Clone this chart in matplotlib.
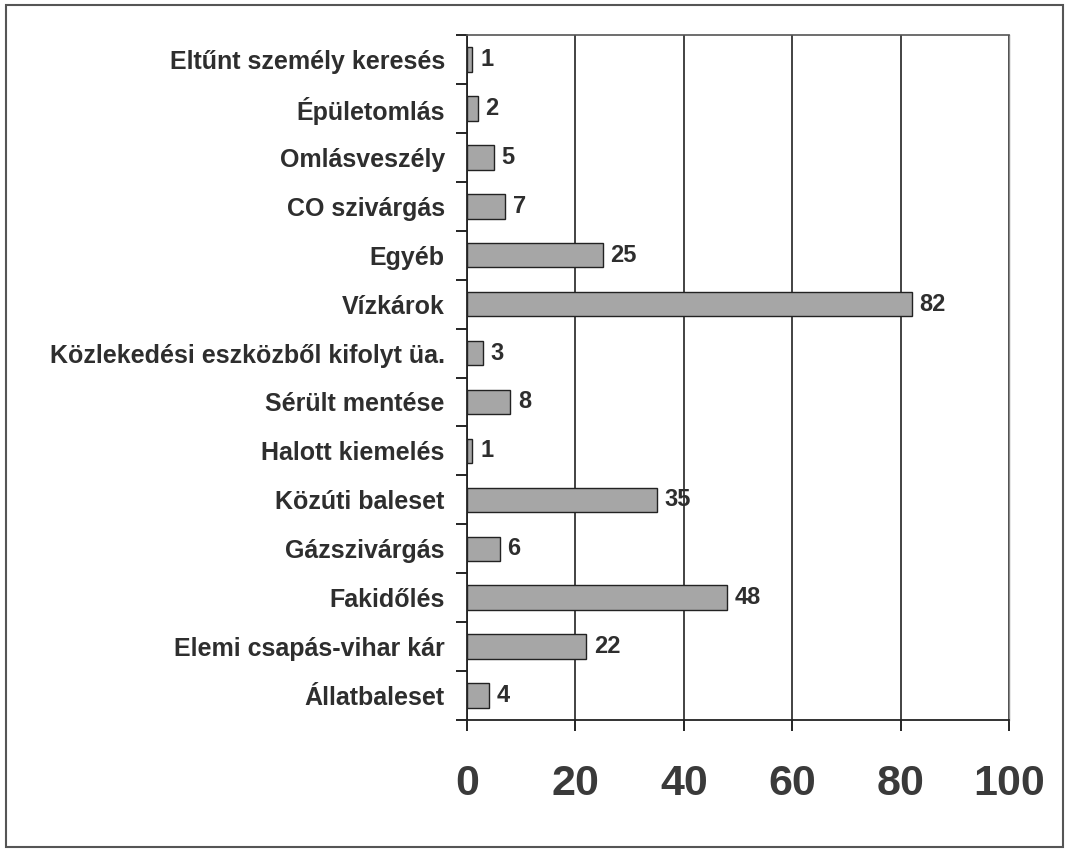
import numpy as np
import matplotlib.pyplot as plt
from matplotlib.patches import Rectangle

categories = [
    "Eltűnt személy keresés",
    "Épületomlás",
    "Omlásveszély",
    "CO szivárgás",
    "Egyéb",
    "Vízkárok",
    "Közlekedési eszközből kifolyt üa.",
    "Sérült mentése",
    "Halott kiemelés",
    "Közúti baleset",
    "Gázszivárgás",
    "Fakidőlés",
    "Elemi csapás-vihar kár",
    "Állatbaleset",
]
values = [1, 2, 5, 7, 25, 82, 3, 8, 1, 35, 6, 48, 22, 4]
xticks = [0, 20, 40, 60, 80, 100]

plt.rcParams["font.family"] = ["Liberation Sans", "DejaVu Sans"]
text_color = "#2e2e2e"

fig = plt.figure(figsize=(10.67, 8.5), dpi=100)
fig.patches.append(Rectangle((0.006, 0.003), 0.99, 0.991, transform=fig.transFigure,
                             fill=False, edgecolor="#555555", linewidth=1.5))
ax = fig.add_axes([0.4377, 0.1529, 0.5083, 0.8059])

n = len(categories)
pos = np.arange(n)
ax.barh(pos, values, height=0.5, color="#a6a6a6", edgecolor="#222222", linewidth=1.0, zorder=3)
for p, v in zip(pos, values):
    ax.text(v + 1.4, p, str(v), va="center", ha="left", fontsize=17,
            fontweight="bold", color=text_color, zorder=4)

ax.set_ylim(n - 0.5, -0.5)
ax.set_xlim(0, 100)
ax.set_yticks(pos)
ax.set_yticklabels(categories, fontsize=18, fontweight="bold", color=text_color)
ax.set_yticks(np.arange(n + 1) - 0.5, minor=True)
ax.tick_params(axis="y", which="major", length=0, pad=16)
ax.tick_params(axis="y", which="minor", length=8, width=1.2, direction="out")

ax.set_xticks(xticks)
ax.set_xticklabels([str(t) for t in xticks], fontsize=31, fontweight="bold", color="#3a3a3a")
ax.tick_params(axis="x", length=8, width=1.2, direction="out", pad=24)
ax.grid(axis="x", color="#222222", linewidth=1.2, zorder=0)

for side in ["left", "bottom"]:
    ax.spines[side].set_linewidth(1.3)
    ax.spines[side].set_color("#222222")
ax.spines["top"].set_color("#555555")
ax.spines["top"].set_linewidth(1.2)
ax.spines["right"].set_color("#888888")
ax.spines["right"].set_linewidth(1.0)

fig.savefig("out.png", dpi=100)
